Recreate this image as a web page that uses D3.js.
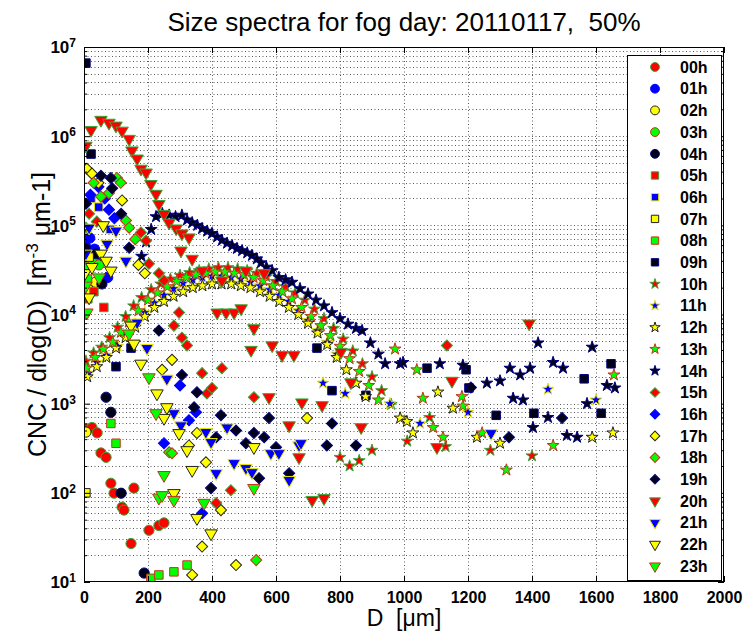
<!DOCTYPE html>
<html>
<head>
<meta charset="utf-8">
<script src="https://cdn.jsdelivr.net/npm/d3@7"></script>
<style>
  body { margin: 0; background: #fff; }
  svg { font-family: "Liberation Sans", Arial, sans-serif; }
  text { white-space: pre; }
</style>
</head>
<body>
<svg id="chart" width="744" height="634"></svg>
<script>
// hourly size spectra, [D (um), CNC/dlogD]
const hourLabels = ["00h","01h","02h","03h","04h","05h","06h","07h","08h","09h","10h","11h","12h","13h","14h","15h","16h","17h","18h","19h","20h","21h","22h","23h"];

const h00 = [[8,520],[25,540],[41,470],[53,280],[69,250],[84,128],[94,99],[119,69],[125,64],[147,27],[156,113],[203,38],[234,43],[250,46]];
const h01 = [[5,5.8e4],[18,7.2e4],[33,5.4e4],[52,3.9e4],[74,2.6e4]];
const h02 = [[6,480],[14,1.9e4],[36,2.3e4]];
const h03 = [[9,3.4e4],[27,4.1e4],[47,3.6e4]];
const h04 = [[4,5.5e4],[38,4.8e4],[56,2.2e4],[69,1180],[84,800],[116,99],[188,12.6]];
const h05 = [[12,1.5e4],[31,1.8e4],[62,1.2e4]];
const h06 = [[22,2.0e5],[46,1.6e5],[82,9.0e4]];
const h07 = [[6,100],[16,4.4e4]];
const h08 = [[11,2.5e4],[84,600],[100,360],[209,11],[234,12],[281,13],[322,15.5]];
const h09 = [[6,6.6e6],[22,6.3e5],[100,2600],[147,4200],[728,4200],[775,1400],[881,1240],[1072,2500],[1194,2400],[1203,1500],[1288,740],[1406,780],[1563,1900],[1616,780],[1647,2800],[1747,1350],[1925,780]];
const h10 = [[6,3000],[30,3700],[55,4300],[80,5500],[105,7200],[130,9500],[155,1.25e4],[180,1.55e4],[210,1.9e4],[240,2.2e4],[270,2.5e4],[300,2.75e4],[330,2.95e4],[360,3.1e4],[390,3.25e4],[420,3.35e4],[450,3.35e4],[480,3.25e4],[510,3.1e4],[540,2.9e4],[570,2.65e4],[600,2.35e4],[630,2.05e4],[660,1.75e4],[690,1.45e4],[720,1.15e4],[750,9.0e3],[780,7.0e3],[810,5.3e3],[840,3.9e3],[870,2.8e3],[900,2.0e3],[930,1.4e3],[960,980],[800,250],[830,200],[860,230],[900,300],[1010,380],[1080,700],[1130,330],[1270,300],[1400,260]];
const h11 = [[15,2200],[40,2900],[70,3500],[105,4400],[130,5800],[160,7800],[190,1.05e4],[220,1.35e4],[250,1.65e4],[280,1.95e4],[310,2.25e4],[340,2.45e4],[370,2.6e4],[400,2.7e4],[430,2.7e4],[460,2.6e4],[490,2.5e4],[520,2.3e4],[550,2.1e4],[580,1.9e4],[610,1.65e4],[640,1.4e4],[670,1.1e4],[700,8.6e3],[730,6.6e3],[760,4.9e3],[790,3.6e3],[747,1700],[816,1300],[956,1000],[1050,600],[1200,800],[1450,1450],[1600,1100]];
const h12 = [[10,2000],[40,2600],[70,3300],[100,4200],[130,5500],[160,7200],[190,9500],[220,1.2e4],[250,1.4e4],[280,1.6e4],[310,1.8e4],[340,2.0e4],[370,2.1e4],[400,2.2e4],[430,2.2e4],[460,2.2e4],[490,2.1e4],[520,2.0e4],[550,1.8e4],[580,1.6e4],[610,1.4e4],[640,1.2e4],[670,1.0e4],[700,8.0e3],[730,6.2e3],[760,4.6e3],[790,3.3e3],[820,2.4e3],[850,1.7e3],[880,1.2e3],[988,690],[1009,630],[1028,470],[1106,1350],[1153,890],[1228,420],[1300,360],[1588,420],[1653,470],[1780,450],[1900,420]];
const h13 = [[8,2500],[35,3300],[60,4100],[90,4900],[115,6300],[140,8200],[170,1.1e4],[200,1.45e4],[230,1.75e4],[260,2.05e4],[290,2.35e4],[320,2.6e4],[350,2.8e4],[380,2.9e4],[410,3.0e4],[440,3.0e4],[470,2.9e4],[500,2.8e4],[530,2.6e4],[560,2.4e4],[590,2.1e4],[620,1.8e4],[650,1.5e4],[680,1.2e4],[710,9.5e3],[740,7.5e3],[770,5.8e3],[800,4.4e3],[830,3.2e3],[860,2.3e3],[890,1.6e3],[920,1.1e3],[972,4100],[1040,2400],[1059,1150],[1091,540],[1122,420],[1181,1200],[1184,940],[1244,470],[1320,180],[1466,340],[1656,2100]];
const h14 = [[180,4.5e4],[194,6.5e4],[210,9.0e4],[225,1.25e5],[245,1.35e5],[266,1.3e5],[286,1.25e5],[306,1.3e5],[322,1.15e5],[338,1.07e5],[354,1.0e5],[369,9.2e4],[385,8.6e4],[400,8.1e4],[416,7.4e4],[431,6.8e4],[447,6.3e4],[463,5.9e4],[478,5.5e4],[494,5.2e4],[510,4.9e4],[525,4.6e4],[540,4.2e4],[553,3.8e4],[570,3.4e4],[588,3.1e4],[609,2.6e4],[630,2.45e4],[650,2.3e4],[675,1.95e4],[700,1.7e4],[725,1.45e4],[750,1.25e4],[775,1.05e4],[800,9.0e3],[825,7.8e3],[850,7.0e3],[869,6.6e3],[895,4.8e3],[920,3.6e3],[941,2800],[988,2800],[997,2900],[1112,2800],[1184,2700],[1259,1700],[1300,1800],[1331,2500],[1341,1150],[1363,2100],[1372,1100],[1394,2500],[1403,540],[1419,4800],[1450,700],[1466,2900],[1497,2500],[1509,440],[1541,420],[1572,1000],[1588,4300],[1634,1600],[1659,1500],[1740,850],[1820,1250],[1890,960],[1960,1400]];
const h15 = [[6,9.4e4],[16,1.35e5],[40,1.1e5],[178,8.3e4],[194,6.7e4],[203,3.7e4],[234,2.9e4],[250,2.4e4],[281,7500],[297,1.05e4],[306,5500],[322,4500],[369,2200],[384,1300],[400,1500],[431,2500],[531,1180],[459,107],[413,77],[1134,4500]];
const h16 = [[20,2.2e5],[45,2.7e5],[65,2.0e5],[78,1.5e5],[95,1.2e5],[250,360],[300,1600],[328,650],[350,800],[369,59]];
const h17 = [[9,4.3e5],[25,3.8e5],[45,3.0e5],[119,1.9e5],[170,3.6e4],[190,2.9e4],[244,2400],[275,3100],[328,340],[353,470],[381,220],[428,64],[369,25],[338,12],[475,15.5],[697,690]];
const h18 = [[30,3.0e5],[53,2.1e5],[78,2.3e5],[103,3.4e5],[115,3.0e5],[131,1.13e5],[141,9.4e4],[160,7.0e4],[266,285],[275,278],[538,17.6]];
const h19 = [[6,1.75e5],[53,3.6e5],[84,3.4e5],[88,2.6e5],[116,1.35e5],[141,5.6e4],[234,6600],[306,2100],[353,1340],[344,910],[428,740],[413,420],[397,113],[475,500],[506,360],[531,470],[547,146],[563,420],[578,690],[600,325],[641,166],[775,600],[759,340],[850,340],[1209,1520],[1328,420],[1494,690]];
const h20 = [[6,7.8e5],[22,1.17e6],[53,1.52e6],[78,1.41e6],[100,1.31e6],[119,1.15e6],[141,9.3e5],[150,6.9e5],[166,5.6e5],[178,4.3e5],[194,3.9e5],[209,2.9e5],[225,2.25e5],[234,1.73e5],[250,1.34e5],[266,1.07e5],[288,9.2e4],[306,8.1e4],[328,7.3e4],[303,5.2e4],[338,4.2e4],[369,3.1e4],[431,2.4e4],[506,3.1e4],[563,2.9e4],[416,1.05e4],[444,1.05e4],[469,1.05e4],[491,1.17e4],[531,7000],[522,4000],[588,4500],[619,3500],[656,3500],[578,1180],[641,570],[681,1030],[744,960],[672,250],[713,83],[750,87],[803,3800],[834,1730],[866,543],[1103,325],[1150,1800],[1391,7900]];
const h21 = [[6,4.8e4],[16,9.4e4],[72,6.2e4],[100,8.7e4],[131,4.0e4],[166,8100],[197,4200],[259,1900],[281,780],[303,570],[381,480],[397,370],[413,166],[447,540],[469,215],[506,189],[525,170],[584,278],[609,278],[641,139],[672,340],[678,360],[1272,466]];
const h22 = [[3,2.9e4],[16,1.55e4],[25,3.4e4],[53,4.8e4],[60,1.0e5],[69,4.0e4],[84,3.1e4],[147,7500],[156,4700],[178,2800],[228,1300],[250,690],[259,910],[281,99],[297,466],[322,300],[338,180],[353,52],[397,35],[531,325]];
const h23 = [[6,2.1e4],[9,1.05e4],[47,2.6e4],[141,6100],[203,1970],[225,780],[234,88],[244,94],[250,158],[281,83],[375,77],[531,113]];

const seriesData = [h00,h01,h02,h03,h04,h05,h06,h07,h08,h09,h10,h11,h12,h13,h14,h15,h16,h17,h18,h19,h20,h21,h22,h23];

const xTicks = [0,200,400,600,800,1000,1200,1400,1600,1800,2000];
const yDecades = [1,2,3,4,5,6,7];

// marker styling: shape by group of five hours, fill colour cycles
const shapeOrder = ["circle","square","star","diamond","triangle"];
const fillColors = ["#ff0000","#0000ff","#ffff00","#00ff00","#000018"];
const edgeColors = ["#3aa63a","#0000ff","#222222","#c8321e","#000080",
                    "#3aa63a","#e8e800","#222222","#c8321e","#000080",
                    "#3aa63a","#e8e800","#222222","#c8321e","#000080",
                    "#3aa63a","#0000ff","#222222","#c8321e","#000080",
                    "#3aa63a","#e8e800","#222222","#c8321e"];

const width = 744, height = 634;
const margin = { top: 47, right: 20, bottom: 52, left: 84 };

const svg = d3.select("#chart");

const x = d3.scaleLinear().domain([0, 2000]).range([margin.left, width - margin.right]);
const y = d3.scaleLog().domain([10, 1e7]).range([height - margin.bottom, margin.top]);

const majors = yDecades.map(e => Math.pow(10, e));
const minors = [];
yDecades.slice(0, -1).forEach(e => {
  for (let k = 2; k <= 9; k++) minors.push(k * Math.pow(10, e));
});

// grid
const grid = svg.append("g")
  .attr("stroke", "#333")
  .attr("stroke-width", 1)
  .attr("stroke-dasharray", "1,2.5")
  .attr("opacity", 0.8);

grid.selectAll("line.gy")
  .data(majors.concat(minors).filter(v => v > 10 && v < 1e7))
  .join("line")
  .attr("x1", margin.left).attr("x2", width - margin.right)
  .attr("y1", d => Math.round(y(d)) + 0.5).attr("y2", d => Math.round(y(d)) + 0.5);

grid.selectAll("line.gx")
  .data(xTicks.filter(v => v > 0 && v < 2000))
  .join("line")
  .attr("x1", d => Math.round(x(d)) + 0.5).attr("x2", d => Math.round(x(d)) + 0.5)
  .attr("y1", margin.top).attr("y2", height - margin.bottom);

// markers
svg.append("clipPath").attr("id", "clip")
  .append("rect")
  .attr("x", margin.left).attr("y", margin.top)
  .attr("width", width - margin.left - margin.right)
  .attr("height", height - margin.top - margin.bottom);

const symbolSpec = {
  circle: [d3.symbolCircle, 82],
  square: [d3.symbolSquare, 72],
  star: [d3.symbolStar, 44],
  diamond: [d3.symbolSquare, 62],
  triangle: [d3.symbolTriangle, 68]
};
const symbolRot = { diamond: 45, triangle: 180 };

function markerPath(shape, k) {
  const s = symbolSpec[shape];
  return d3.symbol(s[0], s[1] * k)();
}

const plot = svg.append("g").attr("clip-path", "url(#clip)");

seriesData.forEach((data, i) => {
  const shape = shapeOrder[Math.floor(i / 5)];
  const rot = symbolRot[shape] || 0;
  plot.append("g")
    .selectAll("path")
    .data(data)
    .join("path")
    .attr("d", markerPath(shape, 1))
    .attr("transform", d => `translate(${x(d[0])},${y(d[1])}) rotate(${rot})`)
    .attr("fill", fillColors[i % 5])
    .attr("stroke", edgeColors[i])
    .attr("stroke-width", 1);
});

// axes, ticks pointing inward
const fontTick = "16px";

const xAxis = svg.append("g")
  .attr("transform", `translate(0,${height - margin.bottom})`)
  .call(d3.axisBottom(x).tickValues(xTicks).tickFormat(d3.format("d"))
    .tickSizeInner(-6).tickSizeOuter(0).tickPadding(10));
xAxis.selectAll("text")
  .attr("fill", "#000")
  .style("font-size", fontTick)
  .style("font-weight", "bold");

svg.append("g")
  .attr("transform", `translate(0,${margin.top})`)
  .call(d3.axisTop(x).tickValues(xTicks).tickSizeInner(-6).tickSizeOuter(0).tickFormat(""));

const yAxis = svg.append("g")
  .attr("transform", `translate(${margin.left},0)`)
  .call(d3.axisLeft(y).tickValues(majors).tickSizeInner(-6).tickSizeOuter(0).tickPadding(8).tickFormat(""));
yAxis.selectAll(".tick text")
  .attr("fill", "#000")
  .attr("dy", "0.35em")
  .style("font-size", "17px")
  .style("font-weight", "bold")
  .each(function(d) {
    const t = d3.select(this);
    t.append("tspan").text("10");
    t.append("tspan").attr("dy", "-0.55em").style("font-size", "12px").text(Math.round(Math.log10(d)));
  });

svg.append("g")
  .attr("transform", `translate(${margin.left},0)`)
  .call(d3.axisLeft(y).tickValues(minors).tickSizeInner(-3).tickSizeOuter(0).tickFormat(""));

svg.append("g")
  .attr("transform", `translate(${width - margin.right},0)`)
  .call(d3.axisRight(y).tickValues(majors).tickSizeInner(-6).tickSizeOuter(0).tickFormat(""));
svg.append("g")
  .attr("transform", `translate(${width - margin.right},0)`)
  .call(d3.axisRight(y).tickValues(minors).tickSizeInner(-3).tickSizeOuter(0).tickFormat(""));

svg.selectAll(".domain").remove();

svg.append("rect")
  .attr("x", margin.left + 0.5).attr("y", margin.top + 0.5)
  .attr("width", width - margin.left - margin.right - 1)
  .attr("height", height - margin.top - margin.bottom - 1)
  .attr("fill", "none").attr("stroke", "#000").attr("stroke-width", 1);

// legend
const legendX = 627, legendY = 55, legendW = 94, legendH = 525, rowH = 21.7;
const legend = svg.append("g");
legend.append("rect")
  .attr("x", legendX + 0.5).attr("y", legendY + 0.5)
  .attr("width", legendW).attr("height", legendH)
  .attr("fill", "#fff").attr("stroke", "#000").attr("stroke-width", 1);

hourLabels.forEach((lab, i) => {
  const shape = shapeOrder[Math.floor(i / 5)];
  const rot = symbolRot[shape] || 0;
  const cy = legendY + 12 + i * rowH;
  legend.append("path")
    .attr("d", markerPath(shape, 0.75))
    .attr("transform", `translate(${legendX + 28},${cy}) rotate(${rot})`)
    .attr("fill", fillColors[i % 5])
    .attr("stroke", edgeColors[i])
    .attr("stroke-width", 1);
  legend.append("text")
    .attr("x", legendX + 53).attr("y", cy).attr("dy", "0.36em")
    .style("font-size", "16px").style("font-weight", "bold")
    .text(lab);
});

// titles
svg.append("text")
  .attr("x", (margin.left + width - margin.right) / 2).attr("y", 31)
  .attr("text-anchor", "middle")
  .style("font-size", "26px")
  .text("Size spectra for fog day: 20110117,  50%");

svg.append("text")
  .attr("x", (margin.left + width - margin.right) / 2).attr("y", 626)
  .attr("text-anchor", "middle")
  .style("font-size", "23px")
  .text("D  [\u03bcm]");

const yl = svg.append("text")
  .attr("transform", `translate(46,${(margin.top + height - margin.bottom) / 2}) rotate(-90)`)
  .attr("text-anchor", "middle")
  .style("font-size", "25px");
yl.append("tspan").text("CNC / dlog(D)  [m");
yl.append("tspan").attr("dy", "-0.5em").style("font-size", "17px").text("-3");
yl.append("tspan").attr("dy", "0.5em").text(" \u03bcm-1]");
</script>
</body>
</html>
